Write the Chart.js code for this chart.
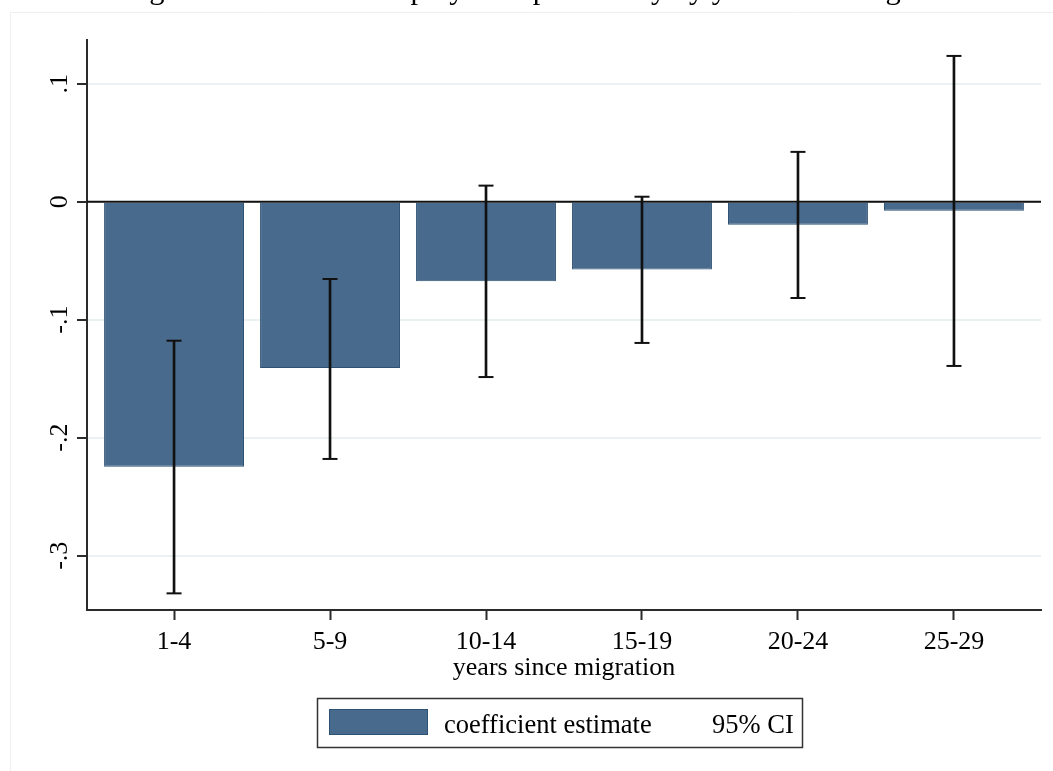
<!DOCTYPE html>
<html>
<head>
<meta charset="utf-8">
<script src="https://cdn.jsdelivr.net/npm/chart.js@4.4.1/dist/chart.umd.min.js"></script>
<style>
  html, body { margin: 0; padding: 0; background: #fff; overflow: hidden; }
  canvas { display: block; }
</style>
</head>
<body>
<canvas id="c" width="1053" height="771"></canvas>
<script>
// Age-at-migration groups and the estimated coefficients with their 95% confidence bounds
const categories = ['1-4', '5-9', '10-14', '15-19', '20-24', '25-29'];
const estimates = [-0.2246, -0.1410, -0.0674, -0.0575, -0.0196, -0.0076];
const ciLow = [-0.3319, -0.2180, -0.1486, -0.1197, -0.0816, -0.1392];
const ciHigh = [-0.1178, -0.0655, 0.0136, 0.0042, 0.0422, 0.1235];
const yTickValues = [0.1, 0, -0.1, -0.2, -0.3];
const yTickLabels = ['.1', '0', '-.1', '-.2', '-.3'];
const titleText = 'Figure 5: Effects on employment probability by years since migration';
const xTitle = 'years since migration';
const legendLabels = ['coefficient estimate', '95% CI'];

const SERIF = "'Liberation Serif', 'Times New Roman', serif";
const BAR_FILL = '#486a8c';
const BAR_EDGE = '#2e5273';
const INK = '#000';
const AXIS = '#2b2b2b';

// White page with the faint graph-region frame
const pagePlugin = {
  id: 'page',
  beforeDraw(chart) {
    const ctx = chart.ctx;
    ctx.save();
    ctx.fillStyle = '#fff';
    ctx.fillRect(0, 0, chart.width, chart.height);
    ctx.strokeStyle = '#efefef';
    ctx.lineWidth = 1;
    ctx.beginPath();
    ctx.moveTo(10.5, chart.height);
    ctx.lineTo(10.5, 12.5);
    ctx.lineTo(chart.width, 12.5);
    ctx.stroke();
    ctx.restore();
  }
};

// Reference line at zero
const zeroLinePlugin = {
  id: 'zeroLine',
  afterDatasetsDraw(chart) {
    const {ctx, chartArea, scales} = chart;
    const y = scales.y.getPixelForValue(0);
    ctx.save();
    ctx.strokeStyle = '#111';
    ctx.lineWidth = 2;
    ctx.beginPath();
    ctx.moveTo(chartArea.left, y);
    ctx.lineTo(chartArea.right, y);
    ctx.stroke();
    ctx.restore();
  }
};

// Vertical y tick labels, caption and legend
const textPlugin = {
  id: 'texts',
  afterDraw(chart) {
    const {ctx, scales} = chart;
    ctx.save();
    ctx.fillStyle = INK;
    ctx.font = '26px ' + SERIF;
    ctx.textAlign = 'center';
    ctx.textBaseline = 'alphabetic';
    yTickValues.forEach((v, i) => {
      const py = scales.y.getPixelForValue(v);
      ctx.save();
      ctx.translate(67, py);
      ctx.rotate(-Math.PI / 2);
      ctx.fillText(yTickLabels[i], 0, 0);
      ctx.restore();
    });

    // Figure caption running off the top edge
    ctx.font = '30.4px ' + SERIF;
    ctx.textAlign = 'left';
    ctx.fillText(titleText, 124, -1);

    // Legend
    ctx.strokeStyle = '#333';
    ctx.lineWidth = 1.5;
    ctx.strokeRect(317.5, 698.5, 485, 49);
    ctx.fillStyle = BAR_FILL;
    ctx.fillRect(329, 709, 99, 26);
    ctx.strokeStyle = BAR_EDGE;
    ctx.lineWidth = 1;
    ctx.strokeRect(329.5, 709.5, 98, 25);
    ctx.fillStyle = INK;
    ctx.font = '26.5px ' + SERIF;
    ctx.fillText(legendLabels[0], 444, 733);
    ctx.fillText(legendLabels[1], 712, 733);
    ctx.restore();
  }
};

new Chart(document.getElementById('c'), {
  type: 'bar',
  data: {
    datasets: [
      {
        label: legendLabels[0],
        data: estimates.map((v, i) => ({x: i + 1, y: v})),
        backgroundColor: BAR_FILL,
        borderColor: BAR_EDGE,
        borderWidth: 1,
        barPercentage: 0.897,
        categoryPercentage: 1,
        grouped: false,
        order: 3
      },
      {
        label: legendLabels[1],
        data: ciLow.map((v, i) => ({x: i + 1, y: [v, ciHigh[i]]})),
        backgroundColor: '#111',
        borderWidth: 0,
        barThickness: 2,
        grouped: false,
        order: 1
      },
      {
        type: 'line',
        label: 'caps',
        data: ciLow.map((v, i) => ({x: i + 1, y: v}))
          .concat(ciHigh.map((v, i) => ({x: i + 1, y: v}))),
        showLine: false,
        pointStyle: 'line',
        pointRadius: 7.5,
        pointBorderWidth: 2,
        pointBorderColor: '#111',
        pointBackgroundColor: '#111',
        order: 0
      }
    ]
  },
  options: {
    responsive: false,
    animation: false,
    events: [],
    layout: {padding: {left: 0, top: 40, right: 12, bottom: 87}},
    plugins: {
      legend: {display: false},
      tooltip: {enabled: false}
    },
    scales: {
      x: {
        type: 'linear',
        min: 0.442,
        max: 6.558,
        offset: false,
        afterBuildTicks(scale) {
          scale.ticks = categories.map((c, i) => ({value: i + 1}));
        },
        afterFit(scale) { scale.height = 74; },
        ticks: {
          autoSkip: false,
          maxRotation: 0,
          minRotation: 0,
          padding: 7,
          color: INK,
          font: {family: SERIF, size: 26},
          callback: (v) => categories[Math.round(v) - 1]
        },
        grid: {
          offset: false,
          drawOnChartArea: false,
          drawTicks: true,
          tickLength: 10,
          tickColor: AXIS,
          tickWidth: 2
        },
        border: {color: AXIS, width: 2},
        title: {
          display: true,
          text: xTitle,
          color: INK,
          padding: 0,
          font: {family: SERIF, size: 26}
        }
      },
      y: {
        type: 'linear',
        min: -0.346,
        max: 0.137,
        afterBuildTicks(scale) {
          scale.ticks = yTickValues.map(v => ({value: v}));
        },
        afterFit(scale) { scale.width = 87; },
        ticks: {display: false},
        grid: {
          color: '#eaf1f2',
          lineWidth: 2,
          drawTicks: true,
          tickLength: 10,
          tickColor: AXIS,
          tickWidth: 2
        },
        border: {color: AXIS, width: 2}
      }
    }
  },
  plugins: [pagePlugin, zeroLinePlugin, textPlugin]
});
</script>
</body>
</html>
